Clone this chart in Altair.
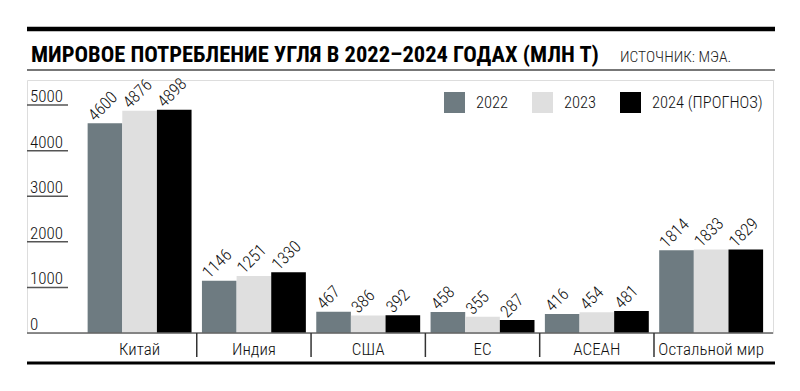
import altair as alt
import pandas as pd

categories = ["Китай", "Индия", "США", "ЕС", "АСЕАН", "Остальной мир"]
years = ["2022", "2023", "2024 (ПРОГНОЗ)"]
v2022 = [4600, 1146, 467, 458, 416, 1814]
v2023 = [4876, 1251, 386, 355, 454, 1833]
v2024 = [4898, 1330, 392, 287, 481, 1829]
y_ticks = [0, 1000, 2000, 3000, 4000, 5000]
colors = ["#6e7b81", "#dfdfdf", "#000000"]
title_text = "МИРОВОЕ ПОТРЕБЛЕНИЕ УГЛЯ В 2022–2024 ГОДАХ (МЛН Т)"
source_text = "ИСТОЧНИК: МЭА."

FONT = "Roboto Condensed, Liberation Sans Narrow, DejaVu Sans Condensed, sans-serif"
LW = 300
W, H = 746, 253

rows = []
for i, c in enumerate(categories):
    for y, vals in zip(years, [v2022, v2023, v2024]):
        rows.append({"cat": c, "year": y, "value": vals[i]})
df = pd.DataFrame(rows)
ticks_df = pd.DataFrame({"t": y_ticks, "lbl": [str(t) for t in y_ticks]})
cat_df = pd.DataFrame({"cat": categories})
sep_df = pd.DataFrame({"cat": categories[1:]})
one = pd.DataFrame({"a": [0]})

xscale = alt.Scale(domain=categories, paddingInner=0, paddingOuter=0.263, align=0.922)
yscale = alt.Scale(domain=[0, 5550], nice=False, zero=True)
X = alt.X("cat:N", scale=xscale, axis=None, sort=categories)
Y = alt.Y("value:Q", scale=yscale, axis=None)
XO = alt.XOffset("year:N", sort=years, scale=alt.Scale(paddingInner=0, paddingOuter=0.15))

bars = alt.Chart(df).mark_bar(stroke=None).encode(
    x=X, xOffset=XO, y=Y,
    color=alt.Color("year:N", sort=years,
                    scale=alt.Scale(domain=years, range=colors),
                    legend=alt.Legend(title=None, orient="none", legendX=417, legendY=12,
                                      direction="horizontal", symbolType="square",
                                      symbolSize=441, symbolStrokeWidth=0,
                                      labelFont=FONT, labelFontSize=16.5, labelFontWeight=LW,
                                      labelColor="#111", labelOffset=11, columnPadding=23)),
)

labels = alt.Chart(df).mark_text(
    angle=315, align="left", baseline="alphabetic", dx=-6, dy=-8,
    font=FONT, fontSize=17, fontWeight=LW, color="#111"
).encode(x=X, xOffset=XO, y=Y, text="value:Q")

tick_rules = alt.Chart(ticks_df).transform_filter("datum.t > 0").mark_rule(
    color="#555", strokeWidth=1.5
).encode(y=alt.Y("t:Q", scale=yscale, axis=None), x=alt.value(0), x2=alt.value(41))

tick_labels = alt.Chart(ticks_df).mark_text(
    align="left", baseline="alphabetic", dy=-3, font=FONT, fontSize=17, fontWeight=LW, color="#111"
).encode(y=alt.Y("t:Q", scale=yscale, axis=None), x=alt.value(3), text="lbl:N")

baseline = alt.Chart(one).mark_rule(color="#666", strokeWidth=1.5).encode(
    y=alt.value(H), x=alt.value(0), x2=alt.value(W))

seps = alt.Chart(sep_df).mark_rule(color="#333", strokeWidth=1.5).encode(
    x=alt.X("cat:N", scale=xscale, axis=None, sort=categories, bandPosition=0),
    y=alt.value(H), y2=alt.value(H + 24))

cat_labels = alt.Chart(cat_df).mark_text(
    baseline="alphabetic", font=FONT, fontSize=17, fontWeight=LW, color="#111"
).encode(x=alt.X("cat:N", scale=xscale, axis=None, sort=categories),
         y=alt.value(H + 22), text="cat:N")

top_line = alt.Chart(one).mark_rule(color="#000", strokeWidth=4.5).encode(
    y=alt.value(-51), x=alt.value(0), x2=alt.value(W + 2))
gray_line = alt.Chart(one).mark_rule(color="#777", strokeWidth=2).encode(
    y=alt.value(-10), x=alt.value(0), x2=alt.value(W + 2))
bottom_line = alt.Chart(one).mark_rule(color="#000", strokeWidth=3).encode(
    y=alt.value(H + 30), x=alt.value(0), x2=alt.value(W + 2))

title = alt.Chart(one).mark_text(
    align="left", baseline="alphabetic", font=FONT, fontSize=22.5, fontWeight="bold", color="#000"
).encode(x=alt.value(4), y=alt.value(-18), text=alt.value(title_text))
source = alt.Chart(one).mark_text(
    align="left", baseline="alphabetic", font=FONT, fontSize=15.5, fontWeight=LW, color="#222"
).encode(x=alt.value(593), y=alt.value(-18), text=alt.value(source_text))

chart = alt.layer(
    bars, labels, tick_rules, tick_labels, baseline, seps, cat_labels,
    top_line, gray_line, bottom_line, title, source
).properties(
    width=W, height=H,
    autosize=alt.AutoSizeParams(type="none"),
    padding={"left": 19, "top": 72, "right": 19, "bottom": 40},
).configure_view(stroke=None).configure(background="#ffffff")

chart.save("out.html", embed_options={"renderer": "svg", "actions": False})
